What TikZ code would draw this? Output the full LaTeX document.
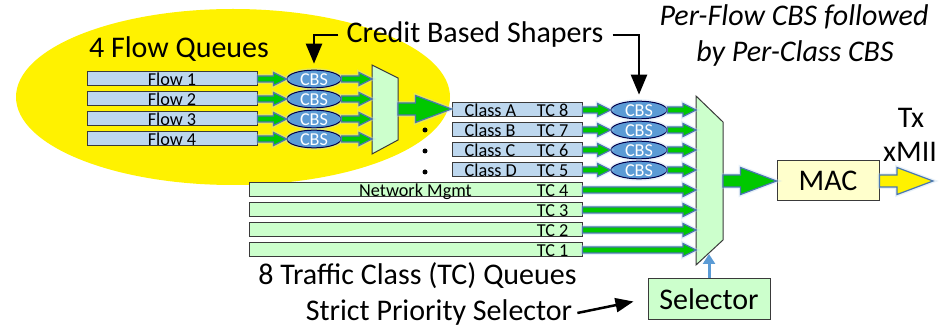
\documentclass[tikz,border=0pt]{standalone}
\usepackage{fontspec}
\setmainfont{Carlito}
\usetikzlibrary{arrows.meta,shapes.geometric,calc}

\definecolor{qblue}{HTML}{BDD7EE}
\definecolor{qgreen}{HTML}{CCFFCC}
\definecolor{cbsblue}{HTML}{5B9BD5}
\definecolor{arrgreen}{HTML}{00C800}
\definecolor{arredge}{HTML}{4A76B0}
\definecolor{macyellow}{HTML}{FFFFCC}
\definecolor{edgegray}{HTML}{3A3A3A}

\tikzset{
  small/.style={font=\fontsize{18.2}{21}\selectfont, text height=12.5pt, text depth=0pt},
  big/.style={font=\fontsize{30}{36}\selectfont, inner sep=0pt, anchor=base},
  queue/.style={small, draw=edgegray, line width=1pt, minimum height=14pt, inner sep=0pt, fill=#1},
  cbs/.style={small, ellipse, draw=black!70!blue, fill=cbsblue, text=white, line width=1pt,
    minimum height=14pt, inner sep=0pt, preaction={draw=cbsblue!40, line width=4pt, opacity=0.35}},
  mux/.style={draw=edgegray, fill=qgreen, line width=1pt},
  box/.style={draw=edgegray, line width=1pt, fill=#1, font=\fontsize{30}{36}\selectfont, inner sep=0pt},
  dot/.style={circle, fill=black, minimum size=5pt, inner sep=0pt},
  blockarr/.style n args={4}{fill=#1, draw=arredge, line width=1.2pt,
    preaction={draw=cbsblue!40, line width=4pt, opacity=0.35},
    to path={let \p1=(\tikztostart), \p2=(\tikztotarget) in
      (\x1,\y1+#2) -- (\x2-#4,\y1+#2) -- (\x2-#4,\y1+#3) -- (\x2,\y1)
      -- (\x2-#4,\y1-#3) -- (\x2-#4,\y1-#2) -- (\x1,\y1-#2) -- cycle}},
  flowarr/.style={blockarr={arrgreen}{3pt}{6.5pt}{13pt}},
  bigarr/.style={blockarr={#1}{6pt}{13.5pt}{36pt}},
  callout/.style={draw, line width=2.5pt, -{Triangle[length=20pt,width=16pt]}},
}

\begin{document}
\begin{tikzpicture}[x=1pt, y=-1pt]
  \useasboundingbox (0,0) rectangle (942,328);

  % flow queue area
  \fill[yellow] (233,97) ellipse [x radius=217pt, y radius=88pt];
  \node[big] (fq) at (179,58) {4 Flow Queues};
  \node[big] (shapers) at (475,43) {Credit Based Shapers};
  \node[big, font=\fontsize{30}{36}\selectfont\itshape] (pf1) at (794,26) {Per-Flow CBS followed};
  \node[big, font=\fontsize{30}{36}\selectfont\itshape] (pf2) at (795,62) {by Per-Class CBS};

  % muxes
  \coordinate (m1w) at (372,65);
  \coordinate (m1e) at (398,109);
  \draw[mux] (372,65) -- (398,78) -- (398,140) -- (372,154) -- cycle;
  \coordinate (m2w) at (696,96);
  \coordinate (m2e) at (723,181);
  \coordinate (m2s) at (709,254);
  \draw[mux] (696,96) -- (723,122) -- (723,240) -- (696,265) -- cycle;

  % per-flow queues
  \foreach \i/\y in {1/79, 2/99, 3/119, 4/139} {
    \node[queue=qblue, minimum width=170pt] (f\i) at (172,\y) {Flow \i};
    \node[cbs, minimum width=54pt] (c\i) at (314,\y) {CBS};
    \draw[flowarr] (f\i.east) to (c\i.west);
    \draw[flowarr] (c\i.east) to (c\i.east -| m1w);
  }

  % per-class queues
  \foreach \k/\cl/\tc/\y in {1/A/8/110, 2/B/7/130, 3/C/6/150, 4/D/5/170} {
    \node[queue=qblue, minimum width=130pt,
      label={[small, anchor=west, inner xsep=13pt]west:Class \cl},
      label={[small, anchor=east, inner xsep=14pt]east:TC \tc}] (q\k) at (517,\y) {};
    \node[cbs, minimum width=56pt] (k\k) at (639,\y) {CBS};
    \draw[flowarr] (q\k.east) to (k\k.west);
    \draw[flowarr] (k\k.east) to (k\k.east -| m2w);
  }
  \node[dot] (d1) at (425,130) {};
  \node[dot] (d2) at (425,151) {};
  \node[dot] (d3) at (425,172) {};
  \draw[bigarr=arrgreen] (m1e) to (q1.west);

  % traffic class queues
  \foreach \k/\y/\txt in {4/190/Network Mgmt, 3/210/, 2/230/, 1/250/} {
    \node[queue=qgreen, minimum width=333pt,
      label={[small, anchor=east, inner xsep=14pt]east:TC \k}] (t\k) at (415.5,\y) {\txt};
    \draw[flowarr] (t\k.east) to (t\k.east -| m2w);
  }
  \node[big] (tcq) at (417.5,285) {8 Traffic Class (TC) Queues};
  \node[big] (sps) at (439,321) {Strict Priority Selector};

  % selector, MAC, output
  \node[box=qgreen, minimum width=122pt, minimum height=41pt] (sel) at (709,299.5) {Selector};
  \node[box=macyellow, minimum width=102pt, minimum height=40pt] (mac) at (828,181) {MAC};
  \coordinate (txo) at (933,181);
  \node[big] (tx) at (911,128) {Tx};
  \node[big] (xmii) at (910,162) {xMII};
  \draw[bigarr=arrgreen] (m2e) to (mac.west);
  \draw[bigarr=yellow] (mac.east) to (txo);
  \draw[cbsblue, line width=3pt, -{Triangle[length=10pt,width=12pt]}] (sel.north) -- (m2s);

  % callouts
  \draw[callout] ([xshift=-8pt]shapers.west) -| ([yshift=6pt]c1.north);
  \draw[callout] ([xshift=9pt]shapers.east) -| ([yshift=6pt]k1.north);
  \draw[callout, -{Triangle[length=18pt,width=14pt]}] ([xshift=5pt]sps.east) -- ([xshift=-14pt,yshift=-2pt]sel.west);
\end{tikzpicture}
\end{document}
